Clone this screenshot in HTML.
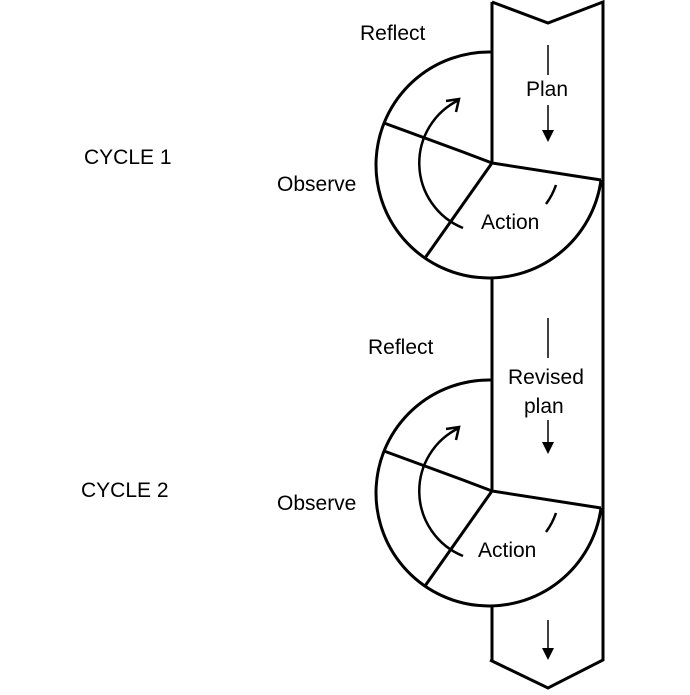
<!DOCTYPE html>
<html><head><style>html,body{margin:0;padding:0;background:#fff}</style></head>
<body>
<svg width="690" height="690" viewBox="0 0 690 690" xmlns="http://www.w3.org/2000/svg" font-family="Liberation Sans, sans-serif" font-size="21" fill="#000">
<g fill="none" stroke="#000" stroke-width="3">
<path d="M492 2 L548 23 L603 2 L603 660 L548 688 L490 660"/>
<path d="M492 2 L492 52"/>
<path d="M492 278 L492 382"/>
<path d="M492 606 L492 660"/>
<g id="c">
<path d="M492 52 A113 113 0 1 0 601 180"/>
<path d="M492 52 L492 163 L601 180"/>
<path d="M492 163 L463 152 L384 123"/>
<path d="M492 163 L425 258"/>
<path d="M463 228 A70 70 0 0 1 459 100" stroke-width="2.5"/>
<path d="M446 101 L459 99 L456 112" stroke-width="2.5"/>
<path d="M556 185 A70 70 0 0 1 546 204" stroke-width="2.5"/>
</g>
<use href="#c" transform="translate(0,328)"/>
<path d="M548 45 L548 75 M548 105 L548 132 M548 318 L548 358 M548 420 L548 444 M548 620 L548 650" stroke-width="1.5"/>
</g>
<path d="M542 130 L554 130 L548 142 Z M542 442 L554 442 L548 454 Z M542 648 L554 648 L548 660 Z"/>
<text x="360" y="40">Reflect</text>
<text x="526" y="96">Plan</text>
<text x="84" y="164">CYCLE 1</text>
<text x="277" y="191">Observe</text>
<text x="481" y="229">Action</text>
<text x="368" y="354">Reflect</text>
<text x="508" y="384">Revised</text>
<text x="524" y="413">plan</text>
<text x="81" y="497">CYCLE 2</text>
<text x="277" y="510">Observe</text>
<text x="478" y="557">Action</text>
</svg>
</body></html>
